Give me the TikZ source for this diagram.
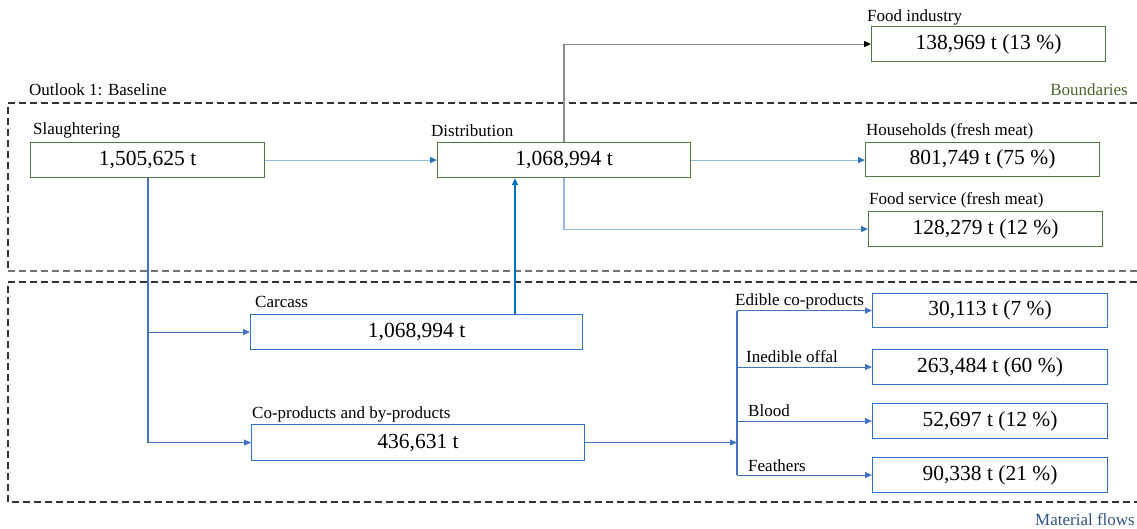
\documentclass[tikz,border=0pt]{standalone}
\usepackage{fontspec}
\setmainfont{LiberationSerif-Regular.ttf}
\usetikzlibrary{arrows.meta}
\definecolor{boxgreen}{RGB}{86,118,64}
\definecolor{boxblue}{RGB}{46,117,200}
\definecolor{flowblue}{RGB}{68,114,196}
\definecolor{lightflow}{RGB}{150,185,225}
\definecolor{tipblue}{RGB}{46,117,182}
\definecolor{carcblue}{RGB}{0,112,192}
\definecolor{bndgreen}{RGB}{79,98,40}
\definecolor{matblue}{RGB}{46,84,130}
\definecolor{linegray}{RGB}{140,140,140}
\begin{document}
\begin{tikzpicture}[x=1pt,y=-1pt,
  valbox/.style={draw, rectangle, anchor=north west, inner sep=0pt, font=\fontsize{21.5}{25}\selectfont, line width=1.1pt},
  gbox/.style={valbox, draw=boxgreen},
  bbox/.style={valbox, draw=boxblue},
  lbl/.style={anchor=base west, inner sep=0pt, font=\fontsize{17}{20}\selectfont},
  bound/.style={dash pattern=on 7pt off 4pt, line width=1.1pt, draw=black!80},
  tip/.style={-{Triangle[length=7pt,width=6pt,#1]}},
  flowarrow/.style={draw=flowblue, line width=1.1pt, tip={color=flowblue}},
  lightarrow/.style={draw=lightflow, line width=1.1pt, tip={color=tipblue}},
  grayarrow/.style={draw=linegray, line width=1.1pt, tip={color=black}},
  carcarrow/.style={draw=carcblue, line width=1.5pt, tip={color=carcblue}}
]
\useasboundingbox (0,0) rectangle (1137,528);

% boundaries
\draw[bound] (1137,103) -- (8,103) -- (8,271);
\draw[bound, draw=black!55] (8,271) -- (1137,271);
\draw[bound] (1137,282) -- (8,282) -- (8,502) -- (1137,502);

\node[lbl] (outlook) at (29,95) {Outlook 1: Baseline};
\node[lbl, anchor=base east, text=bndgreen] (bnd) at (1128,95) {Boundaries};
\node[lbl, anchor=base east, text=matblue] (mat) at (1135,525) {Material flows};

% boxes
\node[gbox, minimum width=234pt, minimum height=35pt] (sl) at (30,142) {1,505,625 t};
\node[gbox, minimum width=253pt, minimum height=35pt] (dist) at (437,142) {1,068,994 t};
\node[gbox, minimum width=234pt, minimum height=35pt] (food) at (871,26) {138,969 t (13 \%)};
\node[gbox, minimum width=234pt, minimum height=34pt] (house) at (865,142) {801,749 t (75 \%)};
\node[gbox, minimum width=234pt, minimum height=35pt] (serv) at (868,211) {128,279 t (12 \%)};
\node[bbox, minimum width=332pt, minimum height=35pt] (carc) at (250,314) {1,068,994 t};
\node[bbox, minimum width=333pt, minimum height=36pt] (co) at (251,424) {436,631 t};
\node[bbox, minimum width=235pt, minimum height=34pt] (ed) at (872,293) {30,113 t (7 \%)};
\node[bbox, minimum width=235pt, minimum height=35pt] (ined) at (872,349) {263,484 t (60 \%)};
\node[bbox, minimum width=235pt, minimum height=35pt] (bl) at (872,403) {52,697 t (12 \%)};
\node[bbox, minimum width=235pt, minimum height=35pt] (fe) at (872,457) {90,338 t (21 \%)};

% labels
\node[lbl] (lsl) at (33,134) {Slaughtering};
\node[lbl] (ldist) at (431,136) {Distribution};
\node[lbl] (lfood) at (867,21) {Food industry};
\node[lbl] (lhouse) at (866,135) {Households (fresh meat)};
\node[lbl] (lserv) at (869,204) {Food service (fresh meat)};
\node[lbl] (lcarc) at (255,307) {Carcass};
\node[lbl] (lco) at (252,418) {Co-products and by-products};
\node[lbl] (led) at (735,305) {Edible co-products};
\node[lbl] (lined) at (746,362) {Inedible offal};
\node[lbl] (lblood) at (748,416) {Blood};
\node[lbl] (lfe) at (748,471) {Feathers};

% helper coordinates
\coordinate (split) at (564,0);
\coordinate (trunk) at (148,0);
\coordinate (up) at (515,0);
\coordinate (j) at (737,0);

% connectors
\draw[lightarrow] (sl.east) -- (dist.west);
\draw[lightarrow] (dist.east) -- (dist.east -| house.west);
\draw[grayarrow] (dist.north -| split) |- (food.west);
\draw[lightarrow] (dist.south -| split) |- (serv.west);
\draw[flowarrow] (sl.south -| trunk) |- (co.west);
\draw[flowarrow] (carc.west -| trunk) -- (carc.west);
\draw[carcarrow] (carc.north -| up) -- (dist.south -| up);
\draw[flowarrow] (co.east) -- (co.east -| j);
\draw[draw=flowblue, line width=1.1pt] (j |- ed.west) -- (j |- fe.west);
\draw[flowarrow] (j |- ed.west) -- (ed.west);
\draw[flowarrow] (j |- ined.west) -- (ined.west);
\draw[flowarrow] (j |- bl.west) -- (bl.west);
\draw[flowarrow] (j |- fe.west) -- (fe.west);
\end{tikzpicture}
\end{document}
